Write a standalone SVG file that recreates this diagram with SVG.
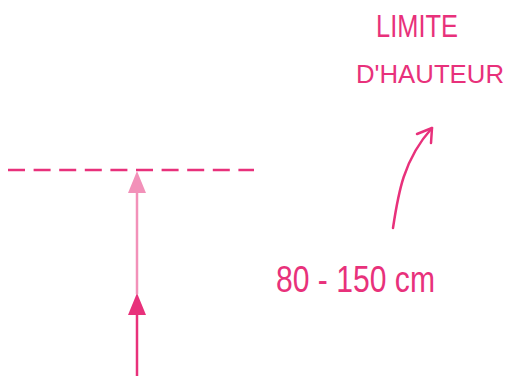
<svg xmlns="http://www.w3.org/2000/svg" width="512" height="376" viewBox="0 0 512 376">
  <defs>
    <style>
      .lbl { font-family: "Liberation Sans", "DejaVu Sans", sans-serif; fill: #e8317b; }
      .dark { stroke: #e8317b; stroke-width: 2.5; fill: none; }
      .light { stroke: #f291b9; stroke-width: 2.5; fill: none; }
    </style>
  </defs>
  <rect width="512" height="376" fill="#ffffff"/>
  <g id="connectors">
    <line x1="8" y1="170" x2="254" y2="170" class="dark" stroke-dasharray="17 8.6"/>
    <line x1="137" y1="376" x2="137" y2="312" class="dark"/>
    <polygon points="137,293 128,315 146,315" fill="#e8317b"/>
    <line x1="137" y1="294" x2="137" y2="190" class="light"/>
    <polygon points="137,171 128,193 146,193" fill="#f291b9"/>
    <path d="M393,228 C398,195 403,160 432,128" class="dark" stroke-linecap="round"/>
    <path d="M417,134 L432,128 L431,143" class="dark" stroke-linecap="round" stroke-linejoin="round"/>
  </g>
  <g id="label-limite">
    <text class="lbl" x="376" y="37" font-size="31" textLength="82" lengthAdjust="spacingAndGlyphs">LIMITE</text>
    <text class="lbl" x="356" y="83" font-size="26" textLength="148" lengthAdjust="spacingAndGlyphs">D'HAUTEUR</text>
  </g>
  <g id="label-range">
    <text class="lbl" x="276" y="292" font-size="37" textLength="159" lengthAdjust="spacingAndGlyphs">80 - 150 cm</text>
  </g>
</svg>
